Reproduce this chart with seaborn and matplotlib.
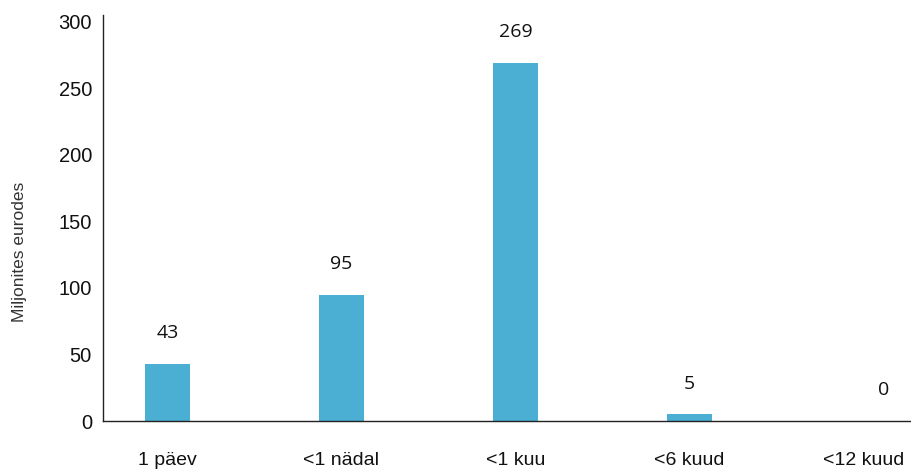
import matplotlib
matplotlib.use("Agg")
import matplotlib.pyplot as plt
import seaborn as sns
import pandas as pd

categories = ["1 päev", "<1 nädal", "<1 kuu", "<6 kuud", "<12 kuud"]
values = [43, 95, 269, 5, 0]
y_ticks = [0, 50, 100, 150, 200, 250, 300]
y_label = "Miljonites eurodes"

sns.set_theme(style="white")
plt.rcParams["font.family"] = ["Liberation Sans", "DejaVu Sans"]

df = pd.DataFrame({"category": categories, "value": values})

fig = plt.figure(figsize=(9.12, 4.72), dpi=100)
ax = fig.add_axes([0.113, 0.108, 0.887, 0.86])

sns.barplot(data=df, x="category", y="value", color="#4BAFD3",
            saturation=1, width=0.26, linewidth=0, ax=ax)

ax.set_xlim(-0.37, 4.28)
ax.set_ylim(0, 305)
ax.set_yticks(y_ticks)
ax.set_yticklabels([str(t) for t in y_ticks], fontsize=14.5, color="#111111")
ax.tick_params(axis="y", direction="in", length=3, width=0.8, color="#222222", pad=8)
ax.tick_params(axis="x", length=0, pad=22, labelsize=14, labelcolor="#111111")
ax.set_xlabel("")
ax.set_ylabel(y_label, fontsize=12.5, color="#333333")
ax.yaxis.set_label_coords(-0.094, 0.416)

for s in ["top", "right"]:
    ax.spines[s].set_visible(False)
for s in ["left", "bottom"]:
    ax.spines[s].set_color("#222222")
    ax.spines[s].set_linewidth(1.0)

for i, v in enumerate(values):
    dx = 15 if v == 0 else 0
    ax.annotate(str(v), xy=(i, v), xytext=(dx, 22), textcoords="offset points",
                ha="center", va="center", fontsize=14, color="#111111",
                family=["Open Sans", "DejaVu Sans"])

fig.savefig("out.png", dpi=100)
